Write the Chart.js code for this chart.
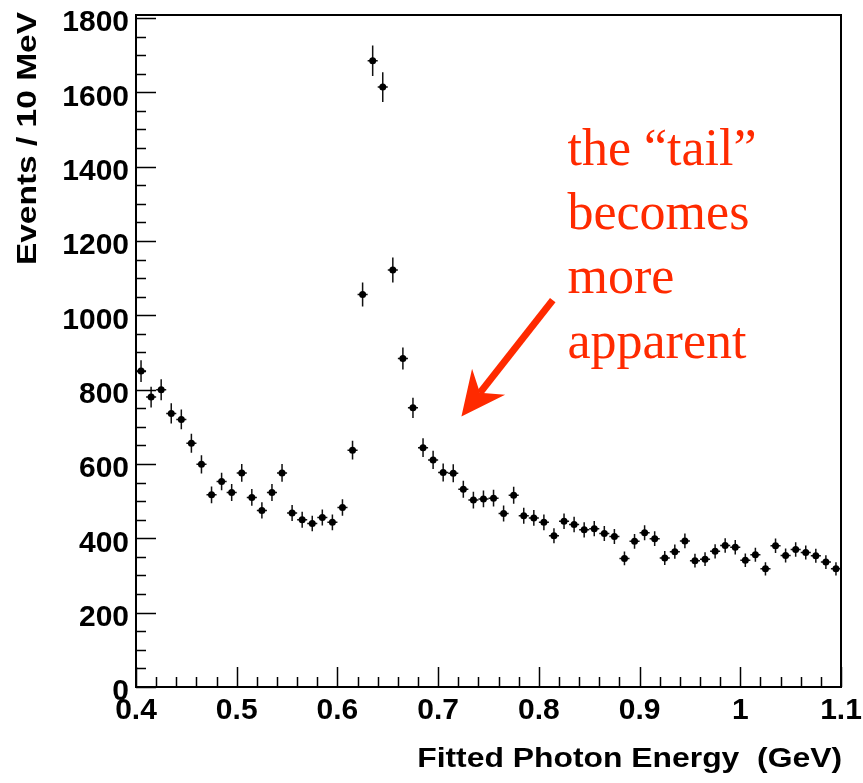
<!DOCTYPE html>
<html>
<head>
<meta charset="utf-8">
<title>Fitted Photon Energy</title>
<script src="https://cdn.jsdelivr.net/npm/chart.js@4.4.1/dist/chart.umd.min.js"></script>
<style>
  html, body { margin: 0; padding: 0; background: #fff; }
  #wrap { width: 863px; height: 783px; }
</style>
</head>
<body>
<div id="wrap"><canvas id="chart" width="863" height="783"></canvas></div>
<script>
// bin centres (10 MeV bins)
const binCenters = [
  0.405, 0.415, 0.425, 0.435, 0.445, 0.455, 0.465, 0.475, 0.485, 0.495,
  0.505, 0.515, 0.525, 0.535, 0.545, 0.555, 0.565, 0.575, 0.585, 0.595,
  0.605, 0.615, 0.625, 0.635, 0.645, 0.655, 0.665, 0.675, 0.685, 0.695,
  0.705, 0.715, 0.725, 0.735, 0.745, 0.755, 0.765, 0.775, 0.785, 0.795,
  0.805, 0.815, 0.825, 0.835, 0.845, 0.855, 0.865, 0.875, 0.885, 0.895,
  0.905, 0.915, 0.925, 0.935, 0.945, 0.955, 0.965, 0.975, 0.985, 0.995,
  1.005, 1.015, 1.025, 1.035, 1.045, 1.055, 1.065, 1.075, 1.085, 1.095
];
// events per bin
const counts = [
  850, 780, 800, 736, 720, 656, 599, 517, 553, 523,
  576, 510, 475, 523, 576, 468, 450, 440, 456, 443,
  483, 637, 1056, 1685, 1614, 1122, 884, 751, 644, 611,
  577, 575, 532, 503, 506, 508, 467, 516, 461, 455,
  443, 407, 446, 437, 423, 426, 413, 405, 346, 392,
  415, 399, 347, 364, 393, 340, 344, 365, 381, 376,
  341, 356, 318, 380, 354, 370, 362, 353, 336, 318
];
const halfBin = 0.005;

const xTicks = [0.4, 0.5, 0.6, 0.7, 0.8, 0.9, 1.0, 1.1];
const yTicks = [0, 200, 400, 600, 800, 1000, 1200, 1400, 1600, 1800];

const xTitle = 'Fitted Photon Energy  (GeV)';
const yTitle = 'Events / 10 MeV';

const noteLines = ['the \u201Ctail\u201D', 'becomes', 'more', 'apparent'];
const noteX = 0.8284;
const noteY = [1404, 1231, 1059, 884];
const arrowFrom = { x: 0.8138, y: 1041 };
const arrowTo = { x: 0.7231, y: 728 };

const RED = '#ff2a00';
const FONT = "'Liberation Sans', Arial, Helvetica, sans-serif";

// error bars: sqrt(N) vertically, bin width horizontally
const errorBars = {
  id: 'errorBars',
  beforeDatasetsDraw(chart) {
    const { ctx, scales: { x, y } } = chart;
    ctx.save();
    ctx.strokeStyle = '#111';
    ctx.lineWidth = 1.5;
    binCenters.forEach((c, i) => {
      const n = counts[i];
      const e = Math.sqrt(n);
      const px = x.getPixelForValue(c);
      const py = y.getPixelForValue(n);
      ctx.beginPath();
      ctx.moveTo(px, y.getPixelForValue(n - e));
      ctx.lineTo(px, y.getPixelForValue(n + e));
      ctx.moveTo(x.getPixelForValue(c - halfBin), py);
      ctx.lineTo(x.getPixelForValue(c + halfBin), py);
      ctx.stroke();
    });
    ctx.restore();
  }
};

// ROOT-like frame with inward ticks, and the stretched axis titles
const frame = {
  id: 'frame',
  afterDraw(chart) {
    const { ctx, chartArea: a, scales: { x, y } } = chart;
    ctx.save();
    ctx.strokeStyle = '#000';
    ctx.lineWidth = 2;
    ctx.strokeRect(a.left, a.top, a.right - a.left, a.bottom - a.top);
    ctx.lineWidth = 1.5;
    ctx.beginPath();
    for (let v = 0; v <= 1800 + 1e-6; v += 50) {
      const py = Math.round(y.getPixelForValue(v)) + 0.5;
      const len = v % 200 === 0 ? 20 : 10;
      ctx.moveTo(a.left, py);
      ctx.lineTo(a.left + len, py);
    }
    for (let k = 0; k <= 35; k++) {
      const v = 0.4 + k * 0.02;
      const px = Math.round(x.getPixelForValue(v)) + 0.5;
      const len = k % 5 === 0 ? 20 : 10;
      ctx.moveTo(px, a.bottom);
      ctx.lineTo(px, a.bottom - len);
    }
    ctx.stroke();

    // axis titles: Helvetica-bold look, a bit wide
    ctx.fillStyle = '#000';
    ctx.font = 'bold 27px ' + FONT;
    ctx.textAlign = 'right';
    ctx.textBaseline = 'alphabetic';
    ctx.save();
    ctx.translate(a.right + 1, 767);
    ctx.scale(1.18, 1);
    ctx.fillText(xTitle, 0, 0);
    ctx.restore();

    ctx.save();
    ctx.translate(36, 12);
    ctx.rotate(-Math.PI / 2);
    ctx.scale(1.24, 1.05);
    ctx.fillText(yTitle, 0, 0);
    ctx.restore();
    ctx.restore();
  }
};

// red note and arrow
const note = {
  id: 'note',
  afterDraw(chart) {
    const { ctx, scales: { x, y } } = chart;
    ctx.save();
    ctx.fillStyle = RED;
    ctx.font = "52px 'Liberation Serif', 'Times New Roman', serif";
    ctx.textAlign = 'left';
    ctx.textBaseline = 'alphabetic';
    noteLines.forEach((t, i) => {
      ctx.fillText(t, x.getPixelForValue(noteX), y.getPixelForValue(noteY[i]));
    });

    const x0 = x.getPixelForValue(arrowFrom.x), y0 = y.getPixelForValue(arrowFrom.y);
    const x1 = x.getPixelForValue(arrowTo.x), y1 = y.getPixelForValue(arrowTo.y);
    const ang = Math.atan2(y1 - y0, x1 - x0);
    const headLen = 44, headW = 21, notch = 30;
    const ux = Math.cos(ang), uy = Math.sin(ang);
    const nx = -uy, ny = ux;
    ctx.strokeStyle = RED;
    ctx.lineWidth = 7;
    ctx.beginPath();
    ctx.moveTo(x0, y0);
    ctx.lineTo(x1 - ux * notch, y1 - uy * notch);
    ctx.stroke();
    ctx.beginPath();
    ctx.moveTo(x1, y1);
    ctx.lineTo(x1 - ux * headLen + nx * headW, y1 - uy * headLen + ny * headW);
    ctx.lineTo(x1 - ux * notch, y1 - uy * notch);
    ctx.lineTo(x1 - ux * headLen - nx * headW, y1 - uy * headLen - ny * headW);
    ctx.closePath();
    ctx.fill();
    ctx.restore();
  }
};

const ctx = document.getElementById('chart').getContext('2d');

new Chart(ctx, {
  type: 'scatter',
  data: {
    datasets: [{
      label: 'Events',
      data: binCenters.map((c, i) => ({ x: c, y: counts[i] })),
      backgroundColor: '#000',
      borderColor: '#000',
      pointRadius: 3.5,
      pointHoverRadius: 3.5,
      borderWidth: 0
    }]
  },
  options: {
    responsive: false,
    animation: false,
    events: [],
    layout: { padding: { top: 15, right: 22, left: 0, bottom: 0 } },
    plugins: {
      legend: { display: false },
      tooltip: { enabled: false }
    },
    scales: {
      x: {
        type: 'linear',
        min: 0.4,
        max: 1.1,
        grid: { display: false, drawTicks: false },
        border: { display: false },
        afterBuildTicks: (s) => { s.ticks = xTicks.map(v => ({ value: v })); },
        afterFit: (s) => { s.height = 96; s.paddingLeft = 0; s.paddingRight = 0; },
        ticks: {
          autoSkip: false,
          maxRotation: 0,
          padding: 6,
          color: '#000',
          font: { family: FONT, size: 30, weight: 'bold' },
          callback: (v) => String(+Number(v).toFixed(1))
        },
        title: { display: false }
      },
      y: {
        min: 0,
        max: 1808,
        grid: { display: false, drawTicks: false },
        border: { display: false },
        afterBuildTicks: (s) => { s.ticks = yTicks.map(v => ({ value: v })); },
        afterFit: (s) => { s.width = 136; s.paddingTop = 0; s.paddingBottom = 0; },
        ticks: {
          autoSkip: false,
          padding: 7,
          labelOffset: 5,
          color: '#000',
          font: { family: FONT, size: 30, weight: 'bold' },
          callback: (v) => String(v)
        },
        title: { display: false }
      }
    }
  },
  plugins: [errorBars, frame, note]
});
</script>
</body>
</html>
